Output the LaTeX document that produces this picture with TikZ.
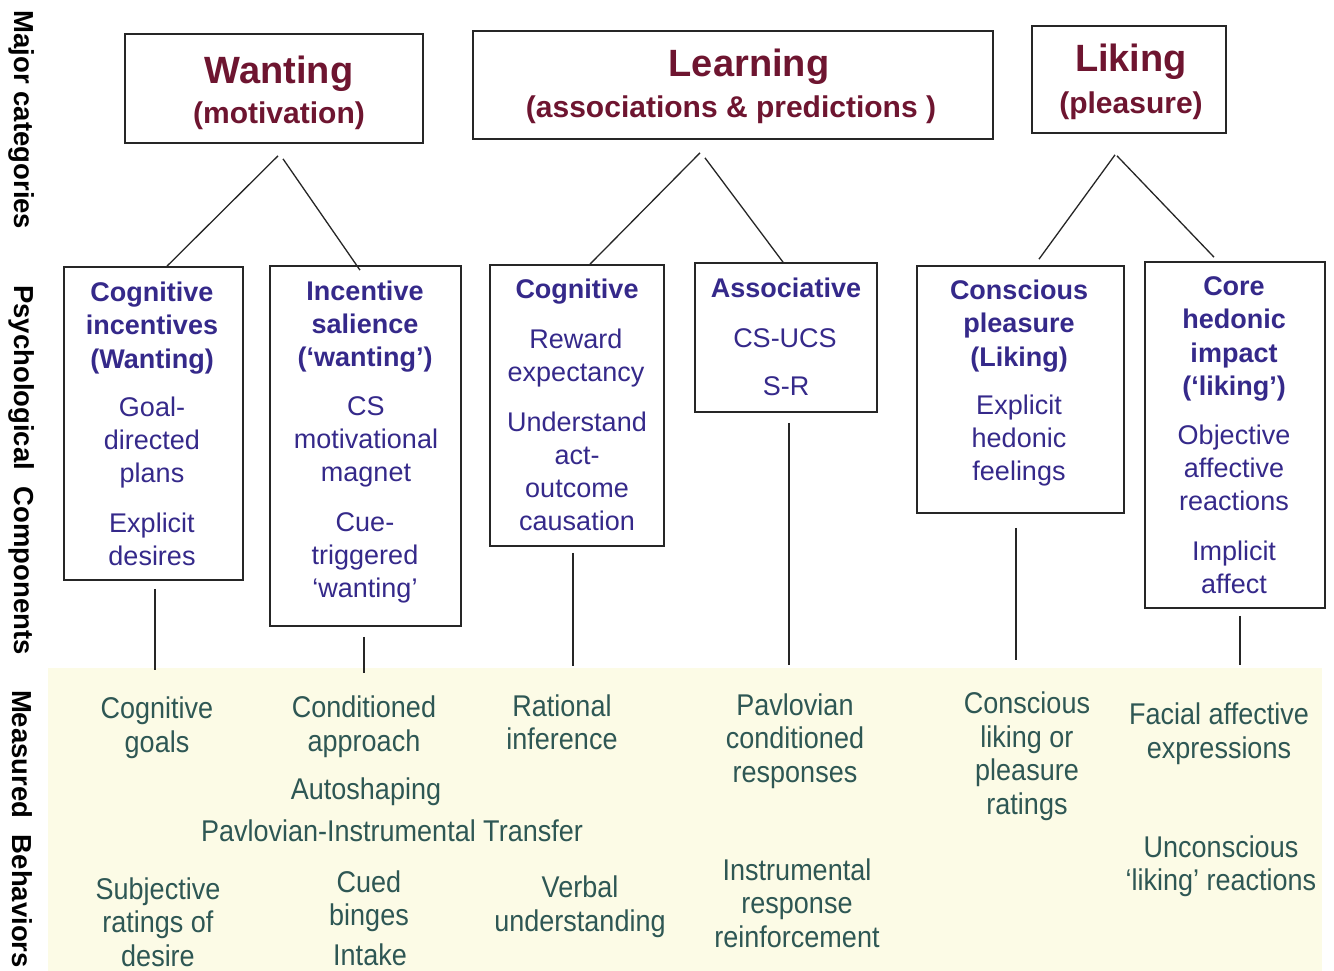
\documentclass[tikz,border=0pt]{standalone}
\usepackage{fontspec}
\setmainfont{Liberation Sans}
\newfontfamily\narrowfont[FakeStretch=0.9]{Liberation Sans}
\usetikzlibrary{calc}
\definecolor{tred}{HTML}{6E1530}
\definecolor{tblue}{HTML}{35298A}
\definecolor{tgreen}{HTML}{2E5754}
\definecolor{cream}{HTML}{FCFBE6}
\tikzset{
  box/.style={draw=black!85, line width=1.7pt, inner sep=0pt, rectangle},
  conn/.style={draw=black!85, line width=1.3pt},
  ttl/.style={text=tred, font=\bfseries\fontsize{38}{42}\selectfont, inner sep=0pt},
  subttl/.style={text=tred, font=\bfseries\fontsize{30}{34}\selectfont, inner sep=0pt},
  head/.style={text=tblue, font=\bfseries\fontsize{27}{33.3}\selectfont, align=center, inner sep=0pt},
  comp/.style={text=tblue, font=\fontsize{27}{33}\selectfont, align=center, inner sep=0pt},
  meas/.style={text=tgreen, font=\narrowfont\fontsize{30}{33.5}\selectfont, align=center, inner sep=0pt},
  side/.style={text=black, font=\bfseries\fontsize{27.5}{30}\selectfont, rotate=-90, inner sep=0pt}
}
\begin{document}
\begin{tikzpicture}[x=1pt,y=-1pt]
\useasboundingbox (0,0) rectangle (1334,971);
\fill[white] (0,0) rectangle (1334,971);

% cream background of measured behaviors
\node[fill=cream, inner sep=0pt, minimum width=1274pt, minimum height=303pt] (bg) at (685,819.5) {};

% side labels
\node[side] (s1) at (22,120) {Major categories};
\node[side] (s2) at (22,470) {Psychological\hspace{0.6em}Components};
\node[side] (s3) at (22,829) {Measured\hspace{0.6em}Behaviors};

% major categories
\node[box, minimum width=298pt, minimum height=109pt] (W) at (274,88.5) {};
\node[ttl] (Wt) at (279,74) {Wanting};
\node[subttl] (Ws) at (279,116) {(motivation)};

\node[box, minimum width=520pt, minimum height=108pt] (L) at (733,85) {};
\node[ttl] (Lt) at (749,67) {Learning};
\node[subttl] (Ls) at (731,110) {(associations \& predictions )};

\node[box, minimum width=194pt, minimum height=107pt] (K) at (1129,79.5) {};
\node[ttl] (Kt) at (1131,62) {Liking};
\node[subttl] (Ks) at (1131,106) {(pleasure)};

% component boxes
\node[box, minimum width=179pt, minimum height=313pt] (c1) at (153.5,423.5) {};
\node[box, minimum width=191pt, minimum height=360pt] (c2) at (365.5,446) {};
\node[box, minimum width=174pt, minimum height=281pt] (c3) at (577,405.5) {};
\node[box, minimum width=182pt, minimum height=149pt] (c4) at (786,337.5) {};
\node[box, minimum width=207pt, minimum height=247pt] (c5) at (1020.5,389.5) {};
\node[box, minimum width=180pt, minimum height=346pt] (c6) at (1235,435) {};

% component texts
\node[head] (c1h) at (152,328) {Cognitive\\incentives\\(Wanting)};
\node[comp] (c1a) at (152,443) {Goal-\\directed\\plans};
\node[comp] (c1b) at (152,539.5) {Explicit\\desires};

\node[head] (c2h) at (365,326.5) {Incentive\\salience\\(‘wanting’)};
\node[comp] (c2a) at (366,442) {CS\\motivational\\magnet};
\node[comp] (c2b) at (365,558) {Cue-\\triggered\\‘wanting’};

\node[head] (c3h) at (577,292) {Cognitive};
\node[comp] (c3a) at (576,358.5) {Reward\\expectancy};
\node[comp] (c3b) at (577,471.5) {Understand\\act-\\outcome\\causation};

\node[head] (c4h) at (786,288) {Associative};
\node[comp] (c4a) at (785,338) {CS-UCS};
\node[comp] (c4b) at (786,386) {S-R};

\node[head] (c5h) at (1019,326) {Conscious\\pleasure\\(Liking)};
\node[comp] (c5a) at (1019,441) {Explicit\\hedonic\\feelings};

\node[head] (c6h) at (1234,339) {Core\\hedonic\\impact\\(‘liking’)};
\node[comp] (c6a) at (1234,468) {Objective\\affective\\reactions};
\node[comp] (c6b) at (1234,567.5) {Implicit\\affect};

% connectors category -> components
\draw[conn] ([xshift=4pt,yshift=-12pt]W.south) -- ([xshift=13.5pt]c1.north);
\draw[conn] ([xshift=9pt,yshift=-15pt]W.south) -- ([xshift=-5.5pt,yshift=-5pt]c2.north);
\draw[conn] ([xshift=-33pt,yshift=-13pt]L.south) -- ([xshift=13pt]c3.north);
\draw[conn] ([xshift=-28pt,yshift=-18pt]L.south) -- ([xshift=-3pt]c4.north);
\draw[conn] ([xshift=-14pt,yshift=-21pt]K.south) -- ([xshift=18.5pt,yshift=6pt]c5.north);
\draw[conn] ([xshift=-12pt,yshift=-22pt]K.south) -- ([xshift=-21pt,yshift=4pt]c6.north);

% connectors components -> measured behaviors
\draw[conn] ([xshift=1.5pt,yshift=-8pt]c1.south) -- ([xshift=1.5pt,yshift=-2pt]c1.south |- bg.north);
\draw[conn] ([xshift=-1.5pt,yshift=-10pt]c2.south) -- ([xshift=-1.5pt,yshift=-5pt]c2.south |- bg.north);
\draw[conn] ([xshift=-4pt,yshift=-6pt]c3.south) -- ([xshift=-4pt,yshift=2pt]c3.south |- bg.north);
\draw[conn] ([xshift=3pt,yshift=-10pt]c4.south) -- ([xshift=3pt,yshift=3pt]c4.south |- bg.north);
\draw[conn] ([xshift=-4.5pt,yshift=-14pt]c5.south) -- ([xshift=-4.5pt,yshift=8pt]c5.south |- bg.north);
\draw[conn] ([xshift=5pt,yshift=-7pt]c6.south) -- ([xshift=5pt,yshift=3pt]c6.south |- bg.north);

% measured behaviors
\node[meas] (m1) at (157,727.5) {Cognitive\\goals};
\node[meas] (m2) at (364,726.5) {Conditioned\\approach};
\node[meas] (m3) at (366,792) {Autoshaping};
\node[meas] (m4) at (392,831) {Pavlovian-Instrumental Transfer};
\node[meas] (m5) at (562,722.5) {Rational\\inference};
\node[meas] (m6) at (795,741) {Pavlovian\\conditioned\\responses};
\node[meas] (m7) at (1027,756) {Conscious\\liking or\\pleasure\\ratings};
\node[meas] (m8) at (1219,733.5) {Facial affective\\expressions};
\node[meas] (m9) at (158,922) {Subjective\\ratings of\\desire};
\node[meas] (m10) at (369,901) {Cued\\binges};
\node[meas] (m11) at (370,955) {Intake};
\node[meas] (m12) at (580,906.5) {Verbal\\understanding};
\node[meas] (m13) at (797,903) {Instrumental\\response\\reinforcement};
\node[meas] (m14) at (1221,866) {Unconscious\\‘liking’ reactions};
\end{tikzpicture}
\end{document}
